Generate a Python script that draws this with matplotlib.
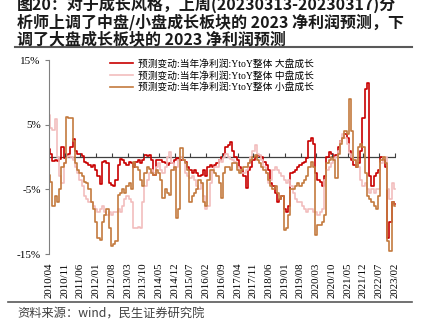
import matplotlib
matplotlib.use('Agg')
import matplotlib.pyplot as plt
import numpy as np

# monthly readings, 2010/04 .. 2023/02 (%)
large_cap = [1.2, 0.5, -0.6, -0.5, -0.6, -0.3, 1.5, -0.2, 0.0, 0.5,
             1.5, 2.8, 1.0, 0.5, 0.4, 0.2, -0.8, -1.0, -1.2, -1.5,
             -1.3, -2.0, -3.0, -4.2, -0.8, -0.6, -1.0, -4.0, -4.3, -4.5,
             -3.5, -1.2, -0.3, -0.5, -1.0, -1.2, -0.8, -1.0, -1.5, -0.8,
             -0.5, -1.0, -0.5, 0.3, 0.2, 0.3, -0.5, -2.8, -0.5, -0.4,
             -0.5, -0.8, -1.0, -1.2, -1.0, -1.0, -0.5, -0.2, -0.3, -0.5,
             -0.5, -0.8, -1.5, -2.0, -2.5, -2.0, -2.5, -3.0, -2.8, -2.0,
             -3.0, -1.5, -1.2, -1.5, -1.3, -1.0, -0.5, 0.0, 0.5, 1.5,
             1.8, 2.3, 1.0, 0.0, -0.5, -1.5, -2.0, -3.0, -4.8, -2.0,
             -1.5, -0.5, 0.0, 0.3, 0.2, 0.0, -0.8, -1.2, -2.0, -4.0,
             -4.5, -5.5, -7.0, -6.5, -6.0, -8.0, -8.5, -7.5, -2.5, -2.3,
             -2.0, -1.5, -1.2, -1.0, -0.8, -0.2, 2.5, 2.9, 2.0, -2.5,
             -3.5, -3.8, -4.5, -3.0, 0.0, 0.8, 0.5, 0.0, 0.3, 1.5,
             2.5, 3.0, 3.5, 3.0, 1.0, -0.5, -1.2, -1.5, -1.0, 1.0,
             6.0, 10.5, 11.5, -3.0, -4.5, -3.0, -2.5, -2.0, 0.0, -0.5,
             -1.5, -12.5, -10.0, -7.0, -7.3]

mid_cap = [6.5, 4.5, 4.2, 5.8, 0.0, -3.0, -4.0, -1.0, 0.0, 0.2,
           0.0, -0.5, -1.5, -2.5, -3.5, -4.5, -6.0, -6.5, -7.0, -7.0,
           -7.5, -8.0, -8.5, -8.0, -7.5, -8.5, -9.0, -8.5, -9.0, -8.5,
           -8.5, -8.0, -8.5, -7.5, -6.5, -6.0, -6.5, -7.0, -11.0, -11.0,
           -10.8, -11.0, -7.0, -4.5, -3.5, -2.5, -2.0, -2.5, -1.5, -1.0,
           -2.0, -2.5, -1.5, 0.0, 0.7, -1.0, -2.0, -1.5, -0.5, 0.0,
           -0.5, -2.5, -3.0, -3.3, -3.0, -3.5, -4.5, -5.0, -4.0, -6.0,
           -8.0, -7.5, -4.0, -2.0, -1.5, -1.5, -0.5, -0.8, 0.0, 0.5,
           0.0, -0.3, -0.5, -0.8, -1.5, -2.0, -2.5, -2.5, -2.0, -1.0,
           0.0, 1.0, 1.8, 0.5, 0.3, -0.5, -1.5, -2.5, -4.0, -3.5,
           -2.0, -1.5, -2.0, -2.5, -3.0, -3.5, -4.0, -3.5, -4.5, -5.5,
           -6.5, -7.0, -7.0, -7.5, -8.0, -8.5, -8.0, -8.0, -8.5, -8.5,
           -9.0, -8.5, -8.0, -3.5, -2.0, -1.5, -1.0, -0.5, 0.0, 1.0,
           2.5, 3.5, 3.0, 2.0, 0.5, 0.0, -0.5, -1.0, -1.5, -3.5,
           -4.5, -4.0, -5.0, -5.5, -5.0, -5.5, -5.0, -5.0, -1.0, 0.0,
           0.0, -5.0, -6.5, -4.0, -5.0]

small_cap = [-2.8, -3.8, -7.5, -6.0, -7.0, -5.0, -1.5, -1.0, 6.2, 6.0,
             6.0, 2.5, -1.0, -2.0, -2.5, -3.0, -3.8, -4.0, -5.0, -7.0,
             -8.0, -10.0, -12.5, -12.8, -10.0, -9.0, -8.0, -11.0, -13.7, -13.5,
             -13.0, -5.8, -5.5, -5.0, -5.5, -4.5, -4.0, -5.0, -0.8, -1.5,
             -2.0, -3.5, -4.5, -2.5, -1.5, -1.8, -2.5, -2.8, -2.0, -2.5,
             -3.5, -6.3, -5.0, -5.5, -5.8, -2.0, -1.5, -9.4, -8.0, 1.4,
             -0.5, -1.0, -2.0, -7.0, -6.0, -5.5, -5.0, -3.5, -4.0, -7.0,
             -7.5, -3.5, -2.0, -2.0, -2.5, -3.0, -4.0, -6.3, -2.5, -1.5,
             -1.5, -2.0, -1.0, -1.0, -2.0, -2.5, -2.0, -1.5, -1.5, -1.0,
             -0.5, 0.0, 0.3, -0.5, -1.0, -1.5, -2.0, -2.5, -3.5, -4.5,
             -5.0, -4.5, -5.5, -6.5, -6.0, -11.3, -11.0, -9.0, -5.0, -5.0,
             -4.5, -4.0, -4.5, -4.0, -3.5, -3.0, -1.5, -0.8, -1.5, -12.0,
             -10.5, -10.5, -10.0, -9.0, -1.0, -0.5, 0.0, -0.5, -3.2, 0.5,
             2.0, 3.0, 4.0, 3.5, 9.0, 4.0, -0.5, -1.5, 1.5, 2.0,
             1.5, -2.5, -6.0, -6.5, -7.0, -7.5, -8.0, -6.0, -0.5, 0.0,
             -1.0, -13.0, -14.5, -7.0, -7.5]

tick_labels = ['2010/04', '2010/11', '2011/06', '2012/01', '2012/08', '2013/03',
               '2013/10', '2014/05', '2014/12', '2015/07', '2016/02', '2016/09',
               '2017/04', '2017/11', '2018/06', '2019/01', '2019/08', '2020/03',
               '2020/10', '2021/05', '2021/12', '2022/07', '2023/02']
y_ticks = [15, 5, -5, -15]

legend_labels = ['预测变动:当年净利润:YtoY整体 大盘成长',
                 '预测变动:当年净利润:YtoY整体 中盘成长',
                 '预测变动:当年净利润:YtoY整体 小盘成长']

title_lines = ['图20：对于成长风格，上周(20230313-20230317)分',
               '析师上调了中盘/小盘成长板块的 2023 净利润预测，下',
               '调了大盘成长板块的 2023 净利润预测']
source = '资料来源：wind，民生证券研究院'

cjk = ['Noto Sans CJK SC', 'DejaVu Sans']
serif = ['Liberation Serif', 'Noto Sans CJK SC']

months = np.arange(len(large_cap))
xt = np.arange(0, len(large_cap), 7)

fig = plt.figure(figsize=(4.22, 3.28), dpi=100)
ax = fig.add_axes([49 / 422, 1 - 254 / 328, 347 / 422, 194 / 328])

ax.plot(months, large_cap, color='#C80000', lw=1.2, drawstyle='steps-mid', label=legend_labels[0])
ax.plot(months, mid_cap, color='#F2BDBD', lw=1.2, drawstyle='steps-mid', label=legend_labels[1])
ax.plot(months, small_cap, color='#C47A3E', lw=1.2, drawstyle='steps-mid', label=legend_labels[2])

ax.axhline(0, color='#404040', lw=0.9, zorder=1)
ax.plot(xt, np.zeros(len(xt)), ls='none', marker=2, ms=3, color='#404040', mew=0.8)

ax.set_xlim(0, len(large_cap) - 0.5)
ax.set_ylim(-15, 15)
ax.set_yticks(y_ticks)
ax.set_yticklabels([f'{v}%' for v in y_ticks], family=serif, fontsize=8)
ax.set_xticks(xt)
ax.set_xticklabels(tick_labels, rotation=90, family=serif, fontsize=7.8)
ax.tick_params(axis='x', length=0, pad=6)
ax.tick_params(axis='y', length=3, color='#808080', pad=3)
for s in ['top', 'right', 'bottom']:
    ax.spines[s].set_visible(False)
ax.spines['left'].set_color('#808080')

leg = ax.legend(loc='upper left', bbox_to_anchor=(110 / 422, 1 - 59 / 328),
                bbox_transform=fig.transFigure, frameon=False,
                prop={'family': serif, 'size': 7}, handlelength=2.4,
                handletextpad=0.5, labelspacing=0.2, borderpad=0, borderaxespad=0)

# title block
ys = [4, 22, 40]
for t, y in zip(title_lines, ys):
    fig.text(17 / 422, 1 - y / 328, t, family=cjk, fontsize=11.5, fontweight='bold',
             color='#1a1a1a', va='center', ha='left')
fig.add_artist(plt.Line2D([15 / 422, 412 / 422], [1 - 47 / 328, 1 - 47 / 328],
                          color='#595959', lw=1.5))
fig.add_artist(plt.Line2D([8 / 422, 412 / 422], [1 - 302 / 328, 1 - 302 / 328],
                          color='#595959', lw=1.2))
fig.text(17 / 422, 1 - 314 / 328, source, family=cjk, fontsize=8.8,
         color='#404040', va='center', ha='left')

fig.savefig('out.png', dpi=100)
